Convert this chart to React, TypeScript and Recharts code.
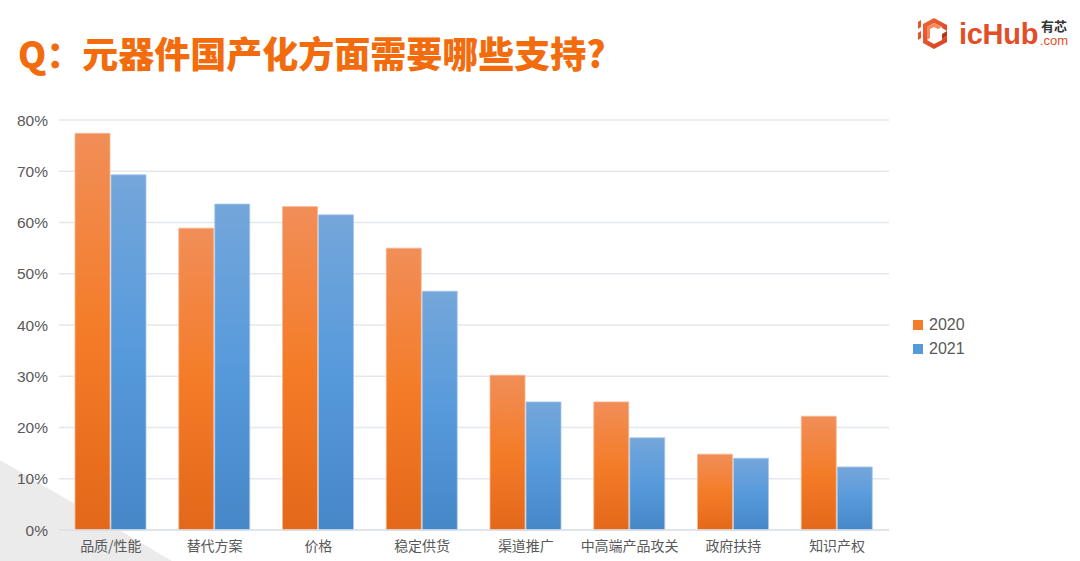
import { BarChart, Bar, XAxis, YAxis, CartesianGrid } from "recharts"

const categories = ["品质/性能", "替代方案", "价格", "稳定供货", "渠道推广", "中高端产品攻关", "政府扶持", "知识产权"]
const values2020 = [77.4, 58.9, 63.1, 55.0, 30.2, 25.0, 14.8, 22.2]
const values2021 = [69.3, 63.6, 61.5, 46.6, 25.0, 18.0, 14.0, 12.3]
const yTicks = [0, 10, 20, 30, 40, 50, 60, 70, 80]
const seriesNames = ["2020", "2021"]
const seriesColors = ["#F47C28", "#579ADC"]

const data = categories.map((name, i) => ({ name, y2020: values2020[i], y2021: values2021[i] }))

const TITLE_FONT = '"Noto Sans CJK SC", "Liberation Sans", sans-serif'
const AXIS_FONT = '"Liberation Sans", Arial, sans-serif'

function Logo() {
  return (
    <div style={{ position: "absolute", left: 912, top: 12, width: 165, height: 44 }}>
      <svg width={44} height={44} style={{ position: "absolute", left: 0, top: 0 }}>
        <defs>
          <linearGradient id="logoA" x1="0" y1="0" x2="1" y2="1">
            <stop offset="0%" stopColor="#F0643A" />
            <stop offset="100%" stopColor="#D7401F" />
          </linearGradient>
        </defs>
        <polygon points="6,10 9,8 9,15 6,17" fill="#E9532C" />
        <polygon points="6,21 9,19 9,26 6,28" fill="#E9532C" />
        <polygon points="22,6 35,13 35,19 30,16 30,15 22,11 15,15 15,28 22,32 30,28 30,27 35,24 35,30 22,37 11,31 11,12" fill="url(#logoA)" />
        <polygon points="22,11 30,15 26,17 22,15 18,17 18,26 15,28 15,15" fill="#F58A5C" />
        <polygon points="35,19 35,24 30,27 30,22" fill="#B8341A" />
      </svg>
      <div
        style={{
          position: "absolute",
          left: 47,
          top: 4,
          fontFamily: AXIS_FONT,
          fontWeight: 700,
          fontSize: 29,
          color: "#E44E27",
          letterSpacing: -0.3,
          lineHeight: "36px",
        }}
      >
        icHub
      </div>
      <div
        style={{
          position: "absolute",
          left: 129,
          top: 7,
          fontFamily: TITLE_FONT,
          fontSize: 13,
          color: "#333",
          lineHeight: "14px",
          fontWeight: 700,
        }}
      >
        有芯
      </div>
      <div
        style={{
          position: "absolute",
          left: 128,
          top: 22,
          fontFamily: AXIS_FONT,
          fontSize: 13,
          color: "#E44E27",
          lineHeight: "14px",
        }}
      >
        .com
      </div>
    </div>
  )
}

export default function App() {
  return (
    <div
      style={{
        position: "fixed",
        left: 0,
        top: 0,
        width: 1080,
        height: 561,
        background: "#fff",
        overflow: "hidden",
      }}
    >
      <svg width={1080} height={561} style={{ position: "absolute", left: 0, top: 0 }}>
        <polygon points="0,460 172,561 0,561" fill="#EBEBEB" />
      </svg>
      <div
        style={{
          position: "absolute",
          left: 18,
          top: 27,
          fontFamily: TITLE_FONT,
          fontWeight: 900,
          fontSize: 36,
          color: "#F26C0E",
          lineHeight: "50px",
          whiteSpace: "nowrap",
        }}
      >
        Q：元器件国产化方面需要哪些支持?
      </div>
      <Logo />
      <div style={{ position: "absolute", left: 0, top: 0 }}>
        <BarChart
          width={1080}
          height={561}
          data={data}
          margin={{ top: 120, right: 191, bottom: 0, left: 0 }}
          barGap={1}
          barSize={35}
        >
          <defs>
            <linearGradient id="gOrange" x1="0" y1="0" x2="0" y2="1">
              <stop offset="0%" stopColor="#F18E58" />
              <stop offset="50%" stopColor="#F47C28" />
              <stop offset="100%" stopColor="#E3681A" />
            </linearGradient>
            <linearGradient id="gBlue" x1="0" y1="0" x2="0" y2="1">
              <stop offset="0%" stopColor="#74A6DA" />
              <stop offset="50%" stopColor="#579ADC" />
              <stop offset="100%" stopColor="#4587C7" />
            </linearGradient>
          </defs>
          <CartesianGrid vertical={false} stroke="#E3E7EE" strokeWidth={1.5} />
          <XAxis
            dataKey="name"
            height={31}
            axisLine={{ stroke: "#DCE1EA", strokeWidth: 1.5 }}
            tickLine={false}
            tickSize={6}
            tickMargin={5}
            interval={0}
            tick={{ fill: "#595959", fontSize: 14, fontFamily: TITLE_FONT }}
          />
          <YAxis
            width={59}
            domain={[0, 80]}
            ticks={yTicks}
            tickFormatter={(v) => `${v}%`}
            axisLine={false}
            tickLine={false}
            tickSize={6}
            tickMargin={5}
            tick={{ fill: "#595959", fontSize: 15.5, fontFamily: AXIS_FONT }}
          />
          <Bar dataKey="y2020" name="2020" fill="url(#gOrange)" stroke="#F7B891" strokeWidth={0.8} isAnimationActive={false} />
          <Bar dataKey="y2021" name="2021" fill="url(#gBlue)" stroke="#A9C8EA" strokeWidth={0.8} isAnimationActive={false} />
        </BarChart>
      </div>
      <div style={{ position: "absolute", left: 913, top: 313 }}>
        {seriesNames.map((n, i) => (
          <div key={n} style={{ display: "flex", alignItems: "center", height: 24, fontFamily: AXIS_FONT, fontSize: 16, color: "#595959" }}>
            <span style={{ display: "inline-block", width: 10, height: 10, background: seriesColors[i], marginRight: 6 }} />
            {n}
          </div>
        ))}
      </div>
    </div>
  )
}
